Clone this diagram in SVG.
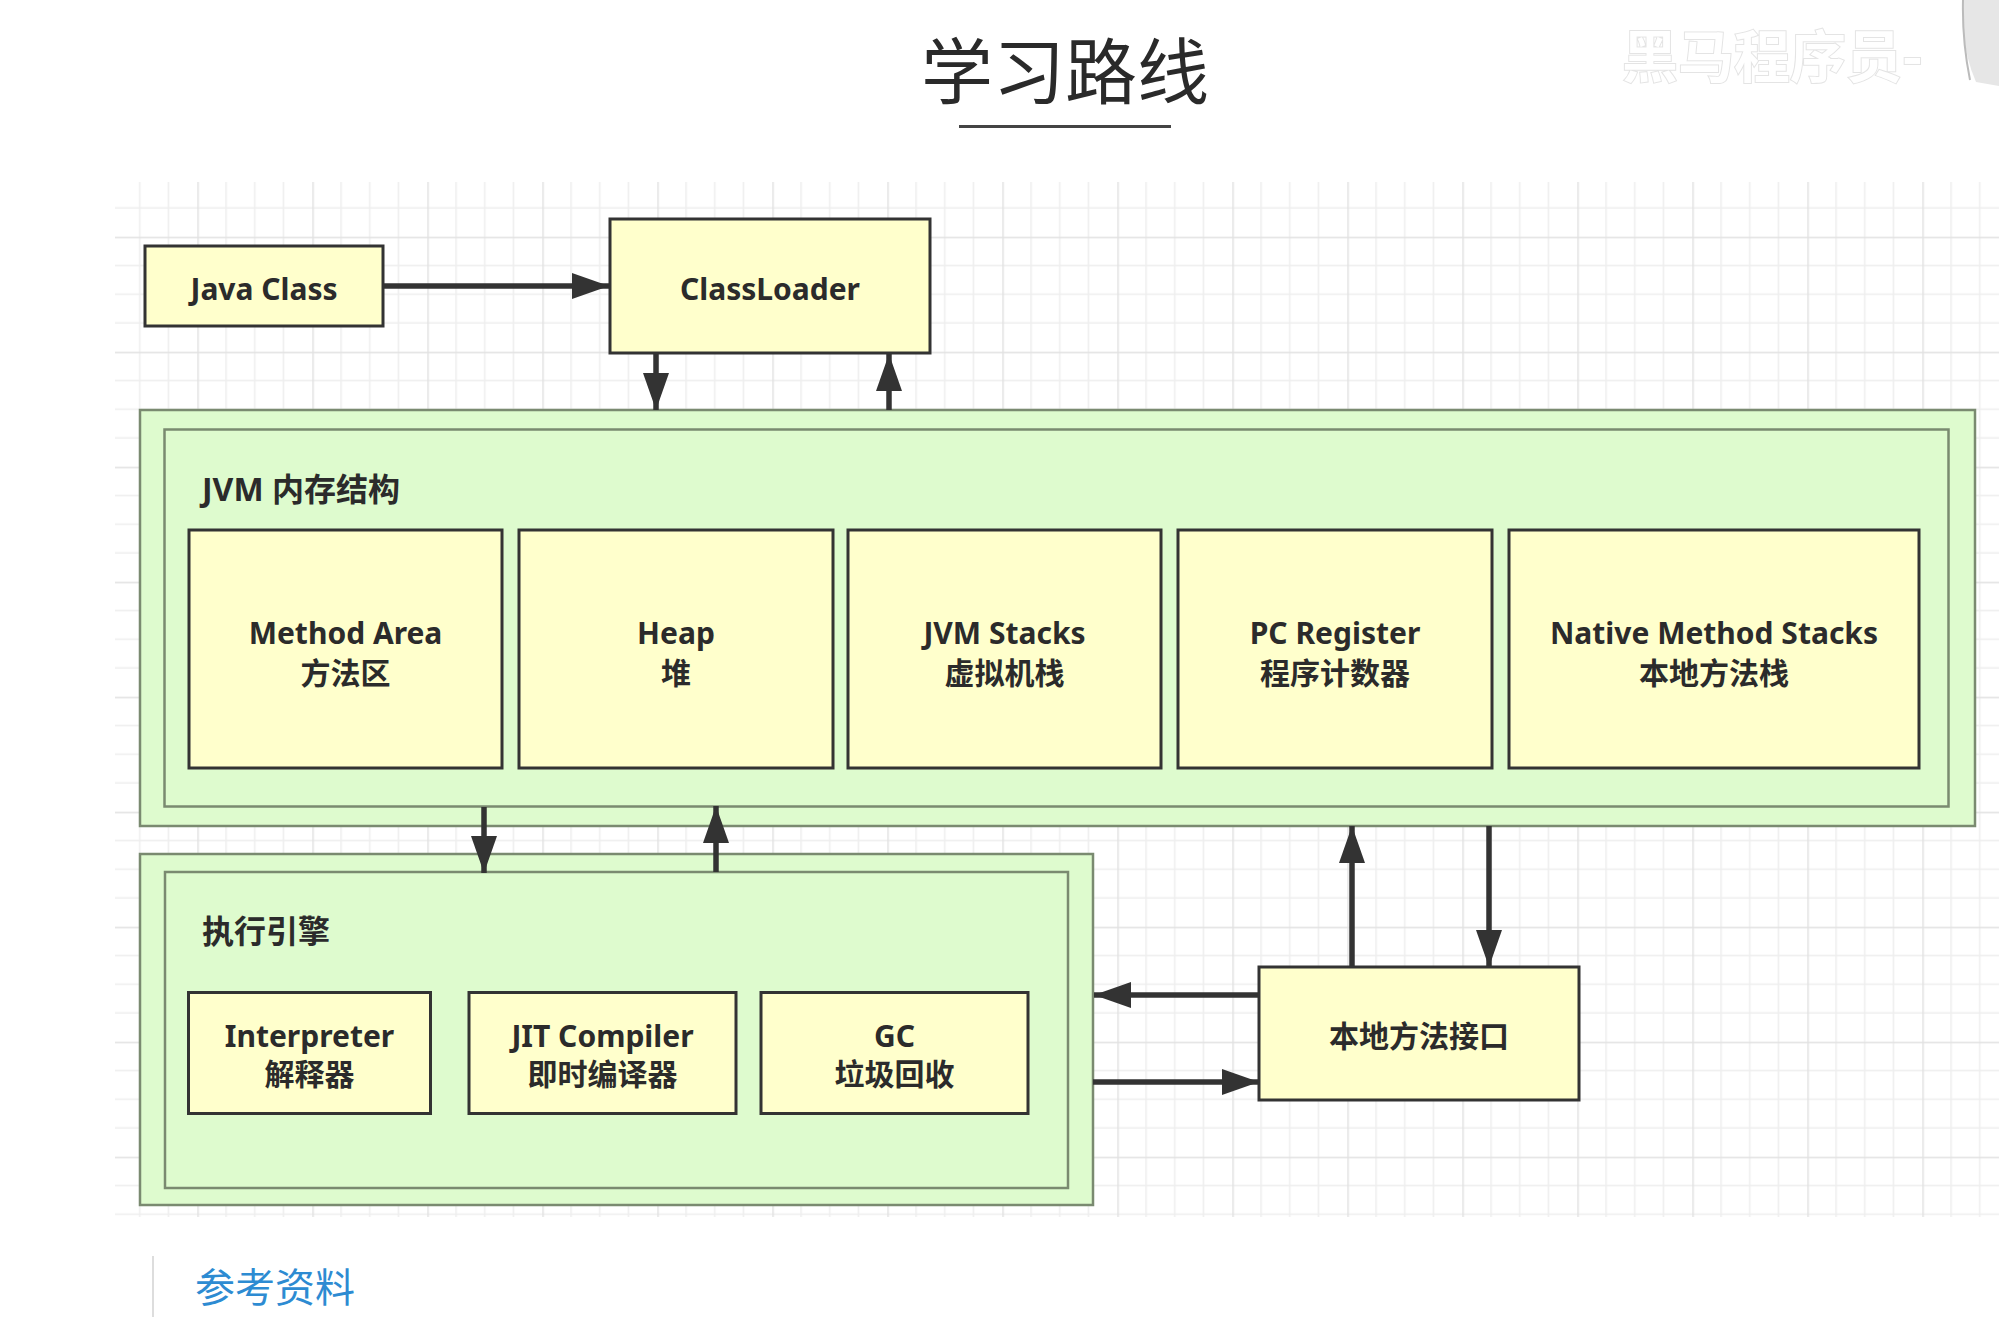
<svg xmlns="http://www.w3.org/2000/svg" width="1999" height="1339" viewBox="0 0 1999 1339">
  <defs>
    <pattern id="grid" patternUnits="userSpaceOnUse" x="82.3" y="6.7" width="115" height="115">
      <path d="M28.75,0V115M57.5,0V115M86.25,0V115M0,28.75H115M0,57.5H115M0,86.25H115" stroke="#eeeeee" stroke-width="1.5" fill="none"/>
      <path d="M0.75,0V115M0,0.75H115" stroke="#e2e2e2" stroke-width="1.5" fill="none"/>
    </pattern>
    <marker id="ah" viewBox="0 0 37 26" refX="37" refY="13" markerWidth="37" markerHeight="26" markerUnits="userSpaceOnUse" orient="auto">
      <path d="M0,0 L37,13 L0,26 Z" fill="#333"/>
    </marker>
    <style>
      .box{fill:#ffffcc;stroke:#333;stroke-width:3}
      .grp{fill:#defbce;stroke:#7a8a70;stroke-width:2.5}
      .t{font-family:'Noto Sans','Noto Sans CJK SC',sans-serif;font-weight:bold;font-size:30px;fill:#2b2b2b;text-anchor:middle}
      .lbl{font-family:'Noto Sans','Noto Sans CJK SC',sans-serif;font-weight:bold;font-size:32px;fill:#2b2b2b}
      .c{stroke:#333;stroke-width:5.5;fill:none;marker-end:url(#ah)}
    </style>
  </defs>
  <rect width="1999" height="1339" fill="#ffffff"/>
  <rect x="115" y="182" width="1884" height="1035" fill="url(#grid)"/>

  <!-- header -->
  <text x="1065" y="98" font-family="'Noto Sans CJK SC',sans-serif" font-size="72" fill="#2a2a2a" text-anchor="middle">学习路线</text>
  <rect x="959" y="125" width="212" height="3" fill="#444"/>
  <text x="1622" y="77" font-family="'Noto Sans CJK SC',sans-serif" font-weight="bold" font-size="56" fill="#ffffff" stroke="#e4e4e4" stroke-width="2" paint-order="stroke">黑马程序员-</text>
  <path d="M1962,0 L1999,0 L1999,86 L1976,82 Q1966,60 1963,28 Z" fill="#e6e6e6"/>
  <path d="M1963,0 Q1962,40 1970,80" stroke="#bbbbbb" stroke-width="2" fill="none"/>

  <!-- groups -->
  <g id="jvm-memory">
    <rect class="grp" x="140" y="410" width="1835" height="416"/>
    <rect class="grp" x="164.5" y="429.5" width="1784" height="377"/>
    <text class="lbl" x="202" y="501">JVM 内存结构</text>
  </g>
  <g id="exec-engine">
    <rect class="grp" x="140" y="854" width="953" height="351"/>
    <rect class="grp" x="165" y="872" width="903" height="316"/>
    <text class="lbl" x="202" y="943">执行引擎</text>
  </g>

  <g id="java-class">
    <rect class="box" x="145" y="246" width="238" height="80"/>
    <text class="t" x="264" y="299.5">Java Class</text>
  </g>
  <g id="classloader">
    <rect class="box" x="610" y="219" width="320" height="134"/>
    <text class="t" x="770" y="299.5">ClassLoader</text>
  </g>

  <g id="method-area">
    <rect class="box" x="189" y="530" width="313" height="238"/>
    <text class="t" x="345.5" y="644">Method Area</text>
    <text class="t" x="345.5" y="684">方法区</text>
  </g>
  <g id="heap">
    <rect class="box" x="519" y="530" width="314" height="238"/>
    <text class="t" x="676" y="644">Heap</text>
    <text class="t" x="676" y="684">堆</text>
  </g>
  <g id="jvm-stacks">
    <rect class="box" x="848" y="530" width="313" height="238"/>
    <text class="t" x="1004.5" y="644">JVM Stacks</text>
    <text class="t" x="1004.5" y="684">虚拟机栈</text>
  </g>
  <g id="pc-register">
    <rect class="box" x="1178" y="530" width="314" height="238"/>
    <text class="t" x="1335" y="644">PC Register</text>
    <text class="t" x="1335" y="684">程序计数器</text>
  </g>
  <g id="native-method-stacks">
    <rect class="box" x="1509" y="530" width="410" height="238"/>
    <text class="t" x="1714" y="644">Native Method Stacks</text>
    <text class="t" x="1714" y="684">本地方法栈</text>
  </g>

  <g id="interpreter">
    <rect class="box" x="188.5" y="992.5" width="242" height="121"/>
    <text class="t" x="309.5" y="1047">Interpreter</text>
    <text class="t" x="309.5" y="1085">解释器</text>
  </g>
  <g id="jit-compiler">
    <rect class="box" x="469" y="992.5" width="267" height="121"/>
    <text class="t" x="602.5" y="1047">JIT Compiler</text>
    <text class="t" x="602.5" y="1085">即时编译器</text>
  </g>
  <g id="gc">
    <rect class="box" x="761" y="992.5" width="267" height="121"/>
    <text class="t" x="894.5" y="1047">GC</text>
    <text class="t" x="894.5" y="1085">垃圾回收</text>
  </g>

  <g id="native-interface">
    <rect class="box" x="1259" y="967" width="320" height="133"/>
    <text class="t" x="1419" y="1047">本地方法接口</text>
  </g>

  <g id="connectors">
    <line class="c" x1="383" y1="286" x2="609" y2="286"/>
    <line class="c" x1="656" y1="353" x2="656" y2="410"/>
    <line class="c" x1="889" y1="410" x2="889" y2="354"/>
    <line class="c" x1="484" y1="807" x2="484" y2="873"/>
    <line class="c" x1="716" y1="872" x2="716" y2="806"/>
    <line class="c" x1="1352" y1="967" x2="1352" y2="826"/>
    <line class="c" x1="1489" y1="826" x2="1489" y2="967"/>
    <line class="c" x1="1259" y1="995" x2="1094" y2="995"/>
    <line class="c" x1="1093" y1="1082" x2="1259" y2="1082"/>
  </g>

  <!-- footer -->
  <rect x="152" y="1256" width="2" height="61" fill="#dddddd"/>
  <text x="195" y="1302" font-family="'Noto Sans CJK SC',sans-serif" font-size="40" fill="#2d8bd2">参考资料</text>
</svg>
